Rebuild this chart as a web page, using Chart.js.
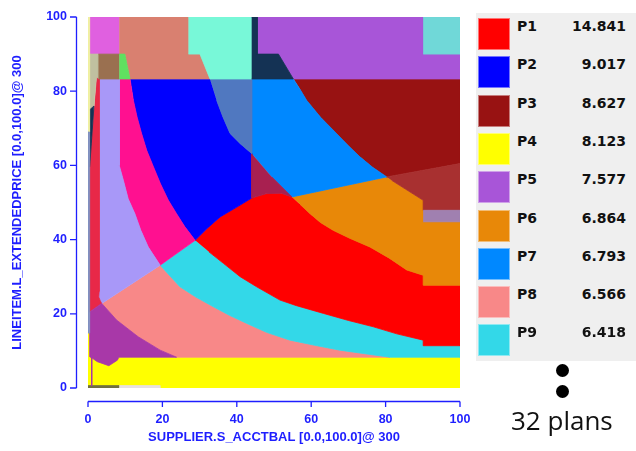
<!DOCTYPE html>
<html>
<head>
<meta charset="utf-8">
<script src="https://cdn.jsdelivr.net/npm/chart.js@4/dist/chart.umd.min.js"></script>
<style>
  html, body { margin: 0; padding: 0; background: #ffffff; }
  #wrap { position: relative; width: 636px; height: 451px; overflow: hidden; }
  #plot { position: absolute; left: 0; top: 0; }
  #legend { position: absolute; left: 476px; top: 13px; width: 160px; height: 348px; background: #efefef; }
  .row { position: absolute; left: 2px; width: 156px; height: 32px; }
  .sw { position: absolute; left: 0; top: 0; width: 30px; height: 30px; border: 1px solid rgba(255,255,255,0.45); }
  .nm { position: absolute; left: 39px; top: 0; line-height: 32px; font: bold 14px "DejaVu Sans", sans-serif; color: #111; }
  .val { position: absolute; right: 8px; top: 0; line-height: 32px; font: bold 14px "DejaVu Sans", sans-serif; color: #111; }
  .dot { position: absolute; width: 13px; height: 13px; border-radius: 50%; background: #000; }
  #more { position: absolute; left: 511px; top: 402px; font: 26px "Open Sans", sans-serif; color: #111; white-space: nowrap; }
</style>
</head>
<body>
<div id="wrap">
  <canvas id="plot" width="636" height="451"></canvas>
  <div id="legend"></div>
  <div class="dot" style="left:556px;top:364px"></div>
  <div class="dot" style="left:556px;top:385px"></div>
  <div id="more">32 plans</div>
</div>
<script>
// Legend: the nine most common plans and their share of the space (%)
const legendPlans = ['P1', 'P2', 'P3', 'P4', 'P5', 'P6', 'P7', 'P8', 'P9'];
const legendShares = ['14.841', '9.017', '8.627', '8.123', '7.577', '6.864', '6.793', '6.566', '6.418'];
const legendColors = ['#ff0000', '#0000ff', '#981212', '#ffff00', '#a855d8', '#e88808', '#0088ff', '#f88888', '#33d8e8'];

const totalPlans = 32;
const xTicks = [0, 20, 40, 60, 80, 100];
const yTicks = [0, 20, 40, 60, 80, 100];
const xTitle = 'SUPPLIER.S_ACCTBAL [0.0,100.0]@ 300';
const yTitle = 'LINEITEM.L_EXTENDEDPRICE [0.0,100.0]@ 300';

// Plan regions: vertices in (S_ACCTBAL, L_EXTENDEDPRICE) selectivity space
const regionP4 = [[0,0],[100,0],[100,8.3],[0.45,8.3],[0.45,14.8],[0,14.8]];
const regionP8 = [[19.4,33.1],[24.7,27.3],[29,24.5],[33.7,21.9],[38,19.6],[42.7,17.4],[48,15],[54.3,12.9],[61,11.5],[67.7,10.2],[74,9.3],[81.2,8.3],[23.8,8.3],[19.4,10.2],[13.5,13.8],[7.7,18.3],[3.7,22.8]];
const regionP9 = [[28.8,39.8],[32.5,36.7],[36.4,33.6],[40.9,30.0],[45.3,27.3],[51.6,23.7],[56,22.2],[63.3,20.1],[70,18.2],[76.7,16.5],[83,14.6],[90.1,12.9],[90.1,11.4],[100,11.4],[100,8.3],[81.2,8.3],[74,9.3],[67.7,10.2],[61,11.5],[54.3,12.9],[48,15],[42.7,17.4],[38,19.6],[33.7,21.9],[29,24.5],[24.7,27.3],[19.4,33.1]];
const regionP1 = [[28.8,39.8],[32,43],[35.5,46.1],[40.9,49.3],[44,51.2],[48,52.4],[52,52.5],[54.8,51.5],[57,49.5],[59.7,47],[62.5,44.6],[65.9,42.5],[70.5,40.3],[75.8,38],[81,35],[85.7,31.8],[90.1,30.4],[90.1,27.7],[100,27.7],[100,11.4],[90.1,11.4],[90.1,12.9],[83,14.6],[76.7,16.5],[70,18.2],[63.3,20.1],[56,22.2],[51.6,23.7],[45.3,27.3],[40.9,30.0],[36.4,33.6],[32.5,36.7]];
const regionP6 = [[54.8,51.5],[80.3,56.9],[81.6,56],[90.1,50.6],[90.1,44.8],[100,44.8],[100,27.7],[90.1,27.7],[90.1,30.4],[85.7,31.8],[81,35],[75.8,38],[70.5,40.3],[65.9,42.5],[62.5,44.6],[59.7,47],[57,49.5]];
const regionP3 = [[55.2,83.3],[100,83.3],[100,60.5],[80.3,56.9],[76.5,59.5],[73.1,62.3],[70,65.3],[66.8,68.6],[62.5,73],[58.8,77.5],[57,80.5]];
const regionP7 = [[44,83.3],[55.2,83.3],[57,80.5],[58.8,77.5],[62.5,73],[66.8,68.6],[70,65.3],[73.1,62.3],[76.5,59.5],[80.3,56.9],[54.8,51.5],[49.4,56.9],[44,63.2]];
const regionP2 = [[11.3,83.3],[32.8,83.3],[34.6,77.5],[36.3,73],[38.2,68.6],[41,65.8],[44,63.2],[44,51.2],[40.9,49.3],[35.5,46.1],[32,43],[28.8,39.8],[26,43.5],[23.8,47],[21.6,50.6],[19.5,55],[17.6,59.6],[15.8,64],[14.4,68.6],[13.2,73],[12.2,77.5]];
const regionP5 = [[45.5,100],[90.1,100],[90.1,90],[100,90],[100,83.3],[55.2,83.3],[51.2,90],[45.5,90]];
const regionP10 = [[80.3,56.9],[100,60.5],[100,47.9],[90.1,47.9],[90.1,50.6],[81.6,56]];
const regionP11 = [[90.1,44.8],[100,44.8],[100,47.9],[90.1,47.9]];
const regionP12 = [[44,63.2],[44,51.2],[48,52.4],[52,52.5],[54.8,51.5],[49.4,56.9]];
const regionP13 = [[32.8,83.3],[44,83.3],[44,63.2],[41,65.8],[38.2,68.6],[36.3,73],[34.6,77.5]];
const regionP14 = [[8.4,83.3],[11.3,83.3],[12.2,77.5],[13.2,73],[14.4,68.6],[15.8,64],[17.6,59.6],[19.5,55],[21.6,50.6],[23.8,47],[26,43.5],[28.8,39.8],[19.4,33.1],[16.2,38],[14.2,42.5],[12.6,47],[10.8,51],[9.5,56],[8.4,60]];
const regionP15 = [[3.0,83.3],[8.4,83.3],[8.4,60],[9.5,56],[10.8,51],[12.6,47],[14.2,42.5],[16.2,38],[19.4,33.1],[3.7,22.8],[3.3,23.5],[2.9,24.5],[3.0,26]];
const regionP16 = [[2.3,84],[3.0,83.3],[3.0,26],[2.9,24.5],[3.3,23.5],[3.7,22.8],[0.45,20.5],[0.45,59.6],[0.9,66],[1.6,75]];
const regionP17 = [[0.45,20.5],[3.7,22.8],[7.7,18.3],[13.5,13.8],[19.4,10.2],[23.8,8.3],[8.3,8.3],[7.9,7.5],[5.6,6.0],[2.5,7.1],[1.2,8.0],[0.45,8.4],[0.45,14.8]];
const regionP18 = [[0.45,90],[8.4,90],[8.4,100],[0.45,100]];
const regionP19 = [[8.4,90],[9.9,90],[11.3,83.3],[32.8,83.3],[30.1,90],[27,90],[27,100],[8.4,100]];
const regionP20 = [[27,100],[44,100],[44,83.3],[32.8,83.3],[31.5,86.5],[30.1,90],[27,90]];
const regionP21 = [[44,100],[45.5,100],[45.5,90],[51.2,90],[55.2,83.3],[44,83.3]];
const regionP22 = [[90.1,90],[100,90],[100,100],[90.1,100]];
const regionP23 = [[0.45,90],[2.8,90],[2.8,83.4],[2.3,84],[1.6,76],[0.45,75]];
const regionP24 = [[2.8,83.3],[8.4,83.3],[8.4,90],[2.8,90]];
const regionP25 = [[8.4,83.3],[11.3,83.3],[9.9,90],[8.4,90]];
const regionP26 = [[0.45,75],[1.6,76],[0.9,66],[0.45,59.6]];
const regionP27 = [[0,69],[0.45,69],[0.45,100],[0,100]];
const regionP28 = [[0,14.8],[0.45,14.8],[0.45,69],[0,69]];
const regionP29 = [[0,0],[8.4,0],[8.4,0.65],[0,0.65]];
const regionP30 = [[8.4,0],[19.4,0],[19.4,0.65],[8.4,0.65]];
const regionP31 = [[0.8,0.65],[1.1,0.65],[1.1,8.2],[0.8,8.2]];

// Drawn bottom to top
const regions = [
  { plan: 'P4',  pts: regionP4,  color: '#ffff00' },
  { plan: 'P8',  pts: regionP8,  color: '#f88888' },
  { plan: 'P9',  pts: regionP9,  color: '#33d8e8' },
  { plan: 'P1',  pts: regionP1,  color: '#ff0000' },
  { plan: 'P6',  pts: regionP6,  color: '#e88808' },
  { plan: 'P3',  pts: regionP3,  color: '#981212' },
  { plan: 'P7',  pts: regionP7,  color: '#0088ff' },
  { plan: 'P2',  pts: regionP2,  color: '#0000ff' },
  { plan: 'P5',  pts: regionP5,  color: '#a855d8' },
  { plan: 'P10', pts: regionP10, color: '#a83030' },
  { plan: 'P11', pts: regionP11, color: '#a080b0' },
  { plan: 'P12', pts: regionP12, color: '#a82050' },
  { plan: 'P13', pts: regionP13, color: '#5078c0' },
  { plan: 'P14', pts: regionP14, color: '#ff1090' },
  { plan: 'P15', pts: regionP15, color: '#a898f8' },
  { plan: 'P16', pts: regionP16, color: '#e82848' },
  { plan: 'P17', pts: regionP17, color: '#a838a8' },
  { plan: 'P18', pts: regionP18, color: '#e060e0' },
  { plan: 'P19', pts: regionP19, color: '#d98070' },
  { plan: 'P20', pts: regionP20, color: '#78f8d8' },
  { plan: 'P21', pts: regionP21, color: '#143254' },
  { plan: 'P22', pts: regionP22, color: '#70d8d8' },
  { plan: 'P23', pts: regionP23, color: '#c0c0a0' },
  { plan: 'P24', pts: regionP24, color: '#9a7050' },
  { plan: 'P25', pts: regionP25, color: '#60e060' },
  { plan: 'P26', pts: regionP26, color: '#143254' },
  { plan: 'P27', pts: regionP27, color: '#f0f0a0' },
  { plan: 'P28', pts: regionP28, color: '#8090c0' },
  { plan: 'P29', pts: regionP29, color: '#707040' },
  { plan: 'P30', pts: regionP30, color: '#e8e0e0' },
  { plan: 'P31', pts: regionP31, color: '#a838a8' }
];

const AXIS_BLUE = '#1e1eff';
const N = regions.length;

const datasets = regions.map((r, i) => ({
  label: r.plan,
  data: r.pts.map(p => ({ x: p[0], y: p[1] })),
  backgroundColor: r.color,
  borderColor: r.color,
  borderWidth: 0.8,
  fill: 'shape',
  tension: 0,
  pointRadius: 0,
  pointHoverRadius: 0,
  order: N - i
}));

// Axis lines set slightly apart from the plot area, with outward ticks
const offsetAxes = {
  id: 'offsetAxes',
  afterDraw(chart) {
    const { ctx, chartArea, scales: { x, y } } = chart;
    ctx.save();
    ctx.strokeStyle = AXIS_BLUE;
    ctx.lineWidth = 1.3;
    const ax = chartArea.left - 11.5;
    ctx.beginPath();
    ctx.moveTo(ax, y.getPixelForValue(yTicks[0]));
    ctx.lineTo(ax, y.getPixelForValue(yTicks[yTicks.length - 1]));
    yTicks.forEach(v => {
      const py = y.getPixelForValue(v);
      ctx.moveTo(ax, py);
      ctx.lineTo(ax - 6.5, py);
    });
    const ay = chartArea.bottom + 13.5;
    ctx.moveTo(x.getPixelForValue(xTicks[0]), ay);
    ctx.lineTo(x.getPixelForValue(xTicks[xTicks.length - 1]), ay);
    xTicks.forEach(v => {
      const px = x.getPixelForValue(v);
      ctx.moveTo(px, ay);
      ctx.lineTo(px, ay + 5.5);
    });
    ctx.stroke();
    ctx.restore();
  }
};

const FONT_FAMILY = '"Liberation Sans", Arial, sans-serif';
const tickFont = { family: FONT_FAMILY, size: 12.5, weight: 'bold' };
const titleFont = { family: FONT_FAMILY, size: 13, weight: 'bold' };

new Chart(document.getElementById('plot'), {
  type: 'line',
  data: { datasets },
  options: {
    responsive: false,
    animation: false,
    events: [],
    layout: { padding: { left: 0, top: 17, right: 176, bottom: 0 } },
    plugins: { legend: { display: false }, tooltip: { enabled: false } },
    scales: {
      x: {
        type: 'linear', min: 0, max: 100,
        afterBuildTicks: s => { s.ticks = xTicks.map(v => ({ value: v })); },
        afterFit: s => { s.height = 63; s.paddingLeft = 0; s.paddingRight = 0; },
        grid: { display: false, drawTicks: false },
        border: { display: false },
        ticks: { color: AXIS_BLUE, font: tickFont, padding: 24, maxRotation: 0 },
        title: { display: true, text: xTitle, color: AXIS_BLUE, font: titleFont, padding: { top: 0, bottom: 6 } }
      },
      y: {
        type: 'linear', min: 0, max: 100,
        afterBuildTicks: s => { s.ticks = yTicks.map(v => ({ value: v })); },
        afterFit: s => { s.width = 88; s.paddingTop = 0; s.paddingBottom = 0; },
        grid: { display: false, drawTicks: false },
        border: { display: false },
        ticks: { color: AXIS_BLUE, font: tickFont, padding: 21 },
        title: { display: true, text: yTitle, color: AXIS_BLUE, font: titleFont, padding: { top: 10, bottom: 0 } }
      }
    }
  },
  plugins: [offsetAxes]
});

// Legend panel
const legend = document.getElementById('legend');
legendPlans.forEach((name, i) => {
  const row = document.createElement('div');
  row.className = 'row';
  row.style.top = (5 + i * 38.3) + 'px';
  const sw = document.createElement('div');
  sw.className = 'sw';
  sw.style.background = legendColors[i];
  const nm = document.createElement('div');
  nm.className = 'nm';
  nm.textContent = name;
  const val = document.createElement('div');
  val.className = 'val';
  val.textContent = legendShares[i];
  row.appendChild(sw); row.appendChild(nm); row.appendChild(val);
  legend.appendChild(row);
});
document.getElementById('more').textContent = totalPlans + ' plans';
</script>
</body>
</html>
